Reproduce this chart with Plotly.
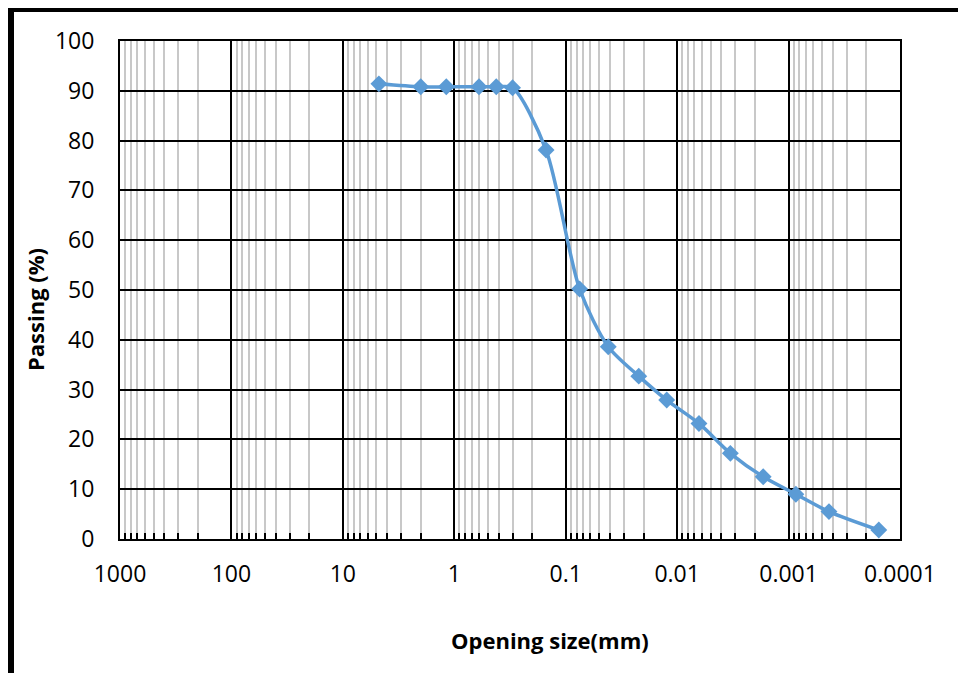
import plotly.graph_objects as go

# Opening size (mm) and percent passing
opening_mm = [4.75, 2.0, 1.18, 0.6, 0.42, 0.3, 0.15, 0.075, 0.0415, 0.0221,
              0.0124, 0.00637, 0.00333, 0.00169, 0.00086, 0.000434, 0.000155]
passing_pct = [91.4, 90.8, 90.8, 90.8, 90.8, 90.6, 78.1, 50.2, 38.6, 32.7,
               27.9, 23.2, 17.2, 12.5, 9.0, 5.5, 1.8]

x_tick_vals = [1000, 100, 10, 1, 0.1, 0.01, 0.001, 0.0001]
x_tick_text = ["1000", "100", "10", "1", "0.1", "0.01", "0.001", "0.0001"]
minor_vals = [m * 10 ** e for e in range(-4, 3) for m in range(2, 10)]

y_tick_vals = list(range(0, 101, 10))

blue = "#5B9BD5"
font_family = "Open Sans, Liberation Sans, sans-serif"

# page body has an 8px margin: plot area targets screen x 120..900, y 41..539
L, R, T, B = 112, 58, 33, 134
PW, PH = 780, 498

fig = go.Figure()
fig.add_trace(go.Scatter(
    x=opening_mm, y=passing_pct, mode="lines+markers",
    line=dict(color=blue, width=3.5, shape="spline", smoothing=0.8),
    marker=dict(symbol="diamond", size=13, color=blue),
    showlegend=False, cliponaxis=False,
))

fig.update_layout(
    width=L + PW + R, height=T + PH + B,
    margin=dict(l=L, r=R, t=T, b=B),
    paper_bgcolor="white", plot_bgcolor="white",
    font=dict(family=font_family, size=23, color="black"),
    xaxis=dict(
        type="log", range=[3, -4], tickmode="array",
        tickvals=x_tick_vals, ticktext=x_tick_text,
        showgrid=True, gridcolor="black", gridwidth=1.5,
        showline=True, linecolor="black", linewidth=2, mirror=True,
        ticks="", ticklabelstandoff=13,
        tickfont=dict(size=23),
        minor=dict(tickmode="array", tickvals=minor_vals,
                   showgrid=True, gridcolor="#C8C8C8", gridwidth=1.5,
                   ticks="inside", ticklen=6, tickcolor="black", tickwidth=1.5),
        zeroline=False,
    ),
    yaxis=dict(
        range=[0, 100], tickmode="array", tickvals=y_tick_vals,
        showgrid=True, gridcolor="black", gridwidth=1.5,
        showline=True, linecolor="black", linewidth=2, mirror=True,
        ticks="", ticklabelstandoff=19, tickfont=dict(size=23),
        zeroline=False,
    ),
    annotations=[
        dict(text="<b>Opening size(mm)</b>", xref="paper", yref="paper",
             x=(550 - 120) / PW, y=-(640 - 539) / PH, showarrow=False,
             xanchor="center", yanchor="middle", font=dict(size=22)),
        dict(text="<b>Passing (%)</b>", xref="paper", yref="paper",
             x=-(120 - 35) / PW, y=(539 - 310) / PH, showarrow=False,
             textangle=-90, xanchor="center", yanchor="middle",
             font=dict(size=22)),
    ],
    shapes=[
        dict(type="rect", xref="paper", yref="paper",
             x0=-(120 - 10) / PW, x1=(990 - 120) / PW,
             y0=-(679 - 539) / PH, y1=1 + (41 - 8) / PH,
             line=dict(color="black", width=8), layer="above"),
    ],
)

fig.write_html("out.html")
